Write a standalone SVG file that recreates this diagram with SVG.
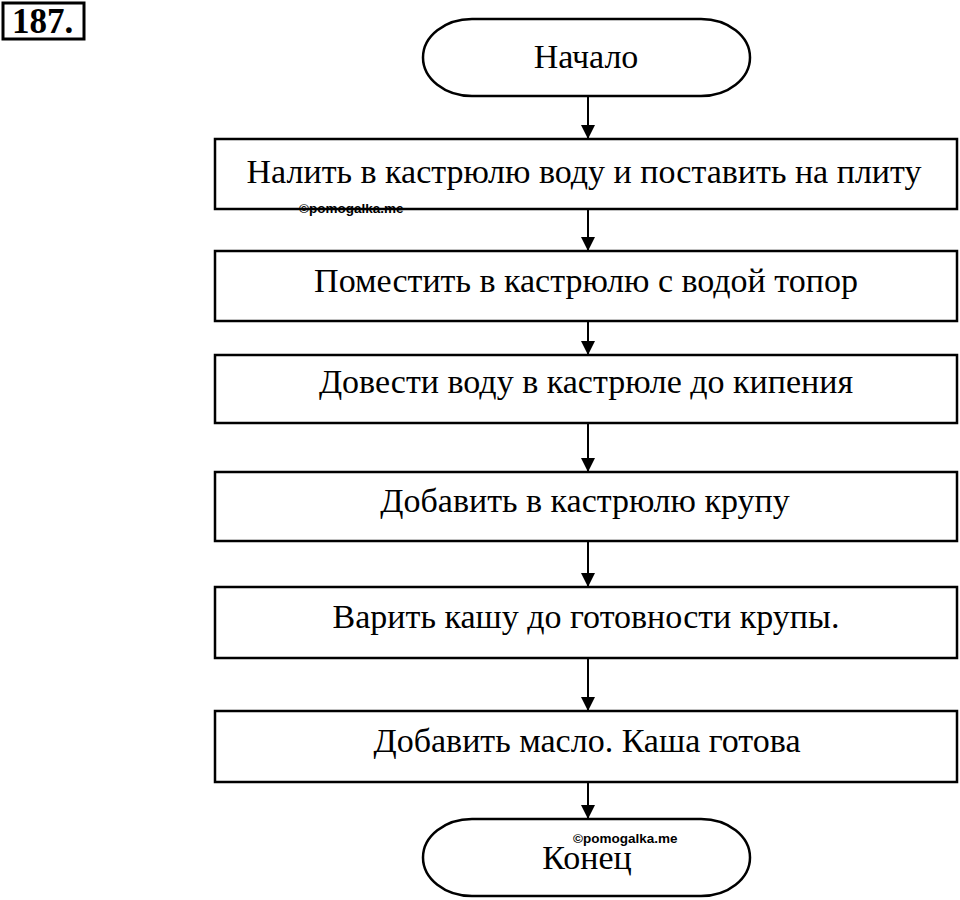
<svg xmlns="http://www.w3.org/2000/svg" width="960" height="900" viewBox="0 0 960 900">
<defs>
<style>
.box{fill:#fff;stroke:#000;stroke-width:2.5}
.t{font-family:"Liberation Serif","Times New Roman",serif;font-size:34px;fill:#000;text-anchor:middle}
.wm{font-family:"Liberation Sans",Arial,sans-serif;font-weight:bold;font-size:13.5px;fill:#000}
.ln{stroke:#000;stroke-width:2;fill:none}
</style>
<marker id="ah" viewBox="0 0 14 14" refX="14" refY="7" markerWidth="14" markerHeight="14" markerUnits="userSpaceOnUse" orient="auto">
<path d="M0,0 L14,7 L0,14 Z" fill="#000"/>
</marker>
</defs>
<rect width="960" height="900" fill="#fff"/>
<g id="title">
<rect x="3" y="3" width="81" height="36" fill="#fff" stroke="#000" stroke-width="3"/>
<text x="12" y="33" font-family="Liberation Serif,serif" font-weight="bold" font-size="35">187.</text>
</g>
<g id="connectors">
<line class="ln" x1="588" y1="96" x2="588" y2="139" marker-end="url(#ah)"/>
<line class="ln" x1="588" y1="209" x2="588" y2="251" marker-end="url(#ah)"/>
<line class="ln" x1="588" y1="321" x2="588" y2="355" marker-end="url(#ah)"/>
<line class="ln" x1="588" y1="423" x2="588" y2="472" marker-end="url(#ah)"/>
<line class="ln" x1="588" y1="541" x2="588" y2="587" marker-end="url(#ah)"/>
<line class="ln" x1="588" y1="658" x2="588" y2="711" marker-end="url(#ah)"/>
<line class="ln" x1="588" y1="782" x2="588" y2="819" marker-end="url(#ah)"/>
</g>
<g id="start">
<path class="box" d="M472,19 H701 A49,38.5 0 0 1 701,96 H472 A49,38.5 0 0 1 472,19 Z"/>
<text class="t" x="586" y="68">Начало</text>
</g>
<g id="step1">
<rect class="box" x="215" y="139" width="742" height="70"/>
<text class="t" x="584" y="183">Налить в кастрюлю воду и поставить на плиту</text>
</g>
<g id="step2">
<rect class="box" x="215" y="251" width="742" height="70"/>
<text class="t" x="586" y="292">Поместить в кастрюлю с водой топор</text>
</g>
<g id="step3">
<rect class="box" x="215" y="355" width="742" height="68"/>
<text class="t" x="586" y="393">Довести воду в кастрюле до кипения</text>
</g>
<g id="step4">
<rect class="box" x="215" y="472" width="742" height="69"/>
<text class="t" x="585" y="512">Добавить в кастрюлю крупу</text>
</g>
<g id="step5">
<rect class="box" x="215" y="587" width="742" height="71"/>
<text class="t" x="586" y="628">Варить кашу до готовности крупы.</text>
</g>
<g id="step6">
<rect class="box" x="215" y="711" width="742" height="71"/>
<text class="t" x="587" y="752">Добавить масло. Каша готова</text>
</g>
<g id="end">
<path class="box" d="M472,819 H701 A49,38.5 0 0 1 701,896 H472 A49,38.5 0 0 1 472,819 Z"/>
<text class="t" x="587" y="869">Конец</text>
</g>
<g id="watermarks">
<text class="wm" x="299" y="213">©pomogalka.me</text>
<text class="wm" x="573" y="843">©pomogalka.me</text>
</g>
</svg>
